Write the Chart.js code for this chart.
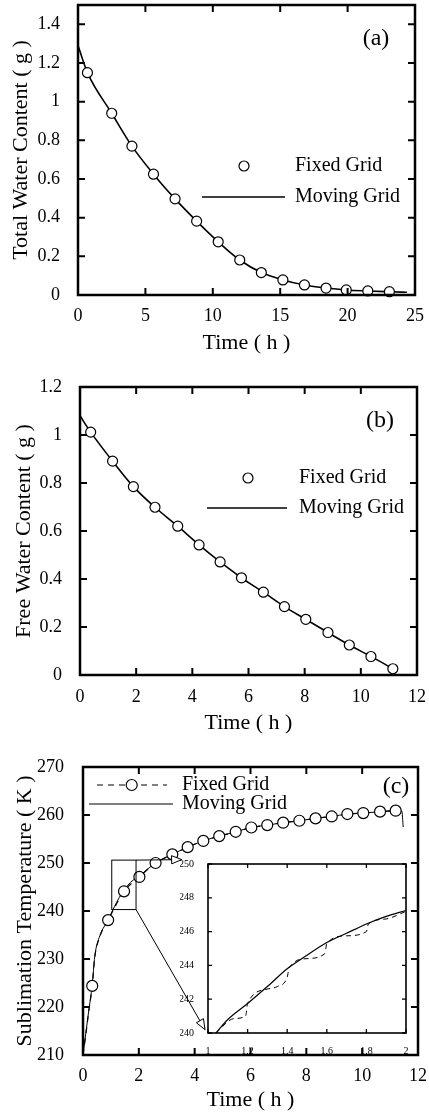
<!DOCTYPE html>
<html>
<head>
<meta charset="utf-8">
<script src="https://cdn.jsdelivr.net/npm/chart.js@4.4.1/dist/chart.umd.min.js"></script>
<style>
  body { margin: 0; background: #fff; }
  #wrap { position: relative; width: 429px; height: 1117px; }
  canvas { position: absolute; left: 0; }
</style>
</head>
<body>
<div id="wrap">
  <canvas id="panelA" width="429" height="360" style="top:0"></canvas>
  <canvas id="panelB" width="429" height="380" style="top:360px"></canvas>
  <canvas id="panelC" width="429" height="377" style="top:740px"></canvas>
  <canvas id="inset" width="232" height="200" style="top:855px;left:180px"></canvas>
</div>
<script>
const serif = "'Liberation Serif', 'Times New Roman', Times, serif";

// Panel (a) - Total water content
const aFixedTime   = [0.7, 2.5, 4.0, 5.6, 7.2, 8.8, 10.4, 12.0, 13.6, 15.2, 16.8, 18.4, 19.9, 21.5, 23.1];
const aFixedWater  = [1.15, 0.94, 0.77, 0.625, 0.497, 0.382, 0.275, 0.181, 0.116, 0.078, 0.052, 0.036, 0.026, 0.021, 0.017];
const aMovingTime  = [0, 0.7, 2.5, 4.0, 5.6, 7.2, 8.8, 10.4, 12.0, 13.6, 15.2, 16.8, 18.4, 19.9, 21.5, 23.1, 24.4];
const aMovingWater = [1.29, 1.15, 0.94, 0.77, 0.625, 0.497, 0.382, 0.275, 0.181, 0.116, 0.078, 0.052, 0.036, 0.026, 0.021, 0.017, 0.014];
const aXTicks = [0, 5, 10, 15, 20, 25];
const aYTicks = [0, 0.2, 0.4, 0.6, 0.8, 1, 1.2, 1.4];

// Panel (b) - Free water content
const bFixedTime   = [0.38, 1.16, 1.90, 2.67, 3.48, 4.24, 4.99, 5.75, 6.53, 7.28, 8.04, 8.83, 9.59, 10.36, 11.14];
const bFixedWater  = [1.012, 0.891, 0.785, 0.699, 0.620, 0.542, 0.471, 0.405, 0.345, 0.285, 0.232, 0.177, 0.125, 0.077, 0.026];
const bMovingTime  = [0, 0.38, 1.16, 1.90, 2.67, 3.48, 4.24, 4.99, 5.75, 6.53, 7.28, 8.04, 8.83, 9.59, 10.36, 11.14, 11.2];
const bMovingWater = [1.08, 1.012, 0.891, 0.785, 0.699, 0.620, 0.542, 0.471, 0.405, 0.345, 0.285, 0.232, 0.177, 0.125, 0.077, 0.024, 0.018];
const bXTicks = [0, 2, 4, 6, 8, 10, 12];
const bYTicks = [0, 0.2, 0.4, 0.6, 0.8, 1, 1.2];

// Panel (c) - Sublimation temperature
const cFixedTime     = [0.33, 0.90, 1.47, 2.02, 2.60, 3.20, 3.75, 4.31, 4.88, 5.47, 6.03, 6.60, 7.17, 7.75, 8.33, 8.91, 9.47, 10.04, 10.64, 11.20];
const cFixedTemp     = [224.4, 238.1, 244.1, 247.1, 250.0, 251.8, 253.3, 254.6, 255.6, 256.5, 257.4, 257.9, 258.4, 258.8, 259.3, 259.7, 260.2, 260.4, 260.7, 260.9];
const cFixedLineTime = [0, 0.1, 0.2, 0.33, 0.42, 0.6, 0.90, 1.47, 2.02, 2.60, 3.20, 3.75, 4.31, 4.88, 5.47, 6.03, 6.60, 7.17, 7.75, 8.33, 8.91, 9.47, 10.04, 10.64, 11.20];
const cFixedLineTemp = [210, 214.2, 218.8, 224.4, 230.3, 234.6, 238.1, 244.1, 247.1, 250.0, 251.8, 253.3, 254.6, 255.6, 256.5, 257.4, 257.9, 258.4, 258.8, 259.3, 259.7, 260.2, 260.4, 260.7, 260.9];
const cMovingTime    = [0, 0.1, 0.2, 0.33, 0.42, 0.6, 0.9, 1.05, 1.2, 1.4, 1.6, 1.8, 2.0, 2.6, 3.2, 3.75, 4.31, 4.88, 5.47, 6.03, 6.6, 7.17, 7.75, 8.33, 8.91, 9.47, 10.04, 10.64, 11.2, 11.42, 11.47];
const cMovingTemp    = [210, 214.5, 219, 224.6, 230.5, 234.8, 238.1, 240.0, 241.75, 243.8, 245.35, 246.45, 247.25, 250.0, 251.8, 253.3, 254.6, 255.6, 256.5, 257.4, 257.9, 258.4, 258.8, 259.3, 259.7, 260.2, 260.4, 260.7, 260.9, 260.8, 257.5];
const cXTicks = [0, 2, 4, 6, 8, 10, 12];
const cYTicks = [210, 220, 230, 240, 250, 260, 270];

// Inset of (c), 1-2 h
const insetFixedTime  = [1.04, 1.13, 1.19, 1.20, 1.30, 1.35, 1.40, 1.41, 1.50, 1.59, 1.60, 1.70, 1.80, 1.81, 1.90, 2.0];
const insetFixedTemp  = [240.0, 240.85, 241.0, 241.75, 242.6, 242.75, 243.3, 243.85, 244.4, 244.7, 245.3, 245.75, 246.0, 246.45, 246.75, 247.2];
const insetMovingTime = [1.04, 1.1, 1.2, 1.3, 1.4, 1.5, 1.6, 1.7, 1.8, 1.9, 2.0];
const insetMovingTemp = [240.0, 240.8, 241.75, 242.75, 243.8, 244.6, 245.35, 245.9, 246.45, 246.9, 247.25];
const insetXTicks = [1, 1.2, 1.4, 1.6, 1.8, 2];
const insetYTicks = [240, 242, 244, 246, 248, 250];

const pts = (xs, ys) => xs.map((x, i) => ({ x, y: ys[i] }));

// frame with inward ticks on all four sides
const framePlugin = {
  id: 'frame',
  beforeDatasetsDraw(chart, args, o) {
    if (!o.fill) return;
    const a = chart.chartArea;
    chart.ctx.save();
    chart.ctx.fillStyle = o.fill;
    chart.ctx.fillRect(a.left, a.top, a.width, a.height);
    chart.ctx.restore();
  },
  afterDatasetsDraw(chart, args, o) {
    const { ctx, chartArea: a, scales: { x, y } } = chart;
    ctx.save();
    ctx.strokeStyle = '#000';
    ctx.lineWidth = o.tickWidth;
    ctx.beginPath();
    for (const t of x.ticks) {
      const px = x.getPixelForValue(t.value);
      ctx.moveTo(px, a.bottom); ctx.lineTo(px, a.bottom - o.tickLen);
      ctx.moveTo(px, a.top); ctx.lineTo(px, a.top + o.tickLen);
    }
    for (const t of y.ticks) {
      const py = y.getPixelForValue(t.value);
      ctx.moveTo(a.left, py); ctx.lineTo(a.left + o.tickLen, py);
      ctx.moveTo(a.right, py); ctx.lineTo(a.right - o.tickLen, py);
    }
    ctx.stroke();
    ctx.lineWidth = o.width;
    ctx.strokeRect(a.left, a.top, a.width, a.height);
    ctx.restore();
  }
};

// hand placed key and panel letter
const keyPlugin = {
  id: 'key',
  afterDraw(chart, args, o) {
    const ctx = chart.ctx;
    ctx.save();
    ctx.fillStyle = '#000';
    ctx.strokeStyle = '#000';
    ctx.textBaseline = 'middle';
    ctx.textAlign = 'center';
    ctx.font = '24px ' + serif;
    ctx.fillText(o.label, o.labelX, o.labelY);
    ctx.textAlign = 'left';
    ctx.font = '20px ' + serif;
    for (const it of o.items) {
      if (it.x0 != null) {
        ctx.lineWidth = it.lineWidth;
        ctx.setLineDash(it.dash ? [6, 5] : []);
        ctx.beginPath();
        ctx.moveTo(it.x0, it.y);
        ctx.lineTo(it.x1, it.y);
        ctx.stroke();
        ctx.setLineDash([]);
      }
      if (it.dot != null) {
        ctx.beginPath();
        ctx.arc(it.dot, it.y, it.r, 0, Math.PI * 2);
        ctx.fillStyle = '#fff';
        ctx.fill();
        ctx.lineWidth = 1.2;
        ctx.stroke();
        ctx.fillStyle = '#000';
      }
      ctx.fillText(it.text, it.textX, it.y);
    }
    ctx.restore();
  }
};

function arrow(ctx, x0, y0, x1, y1) {
  const ang = Math.atan2(y1 - y0, x1 - x0), len = 11, w = 0.38;
  ctx.beginPath();
  ctx.moveTo(x0, y0);
  ctx.lineTo(x1, y1);
  ctx.stroke();
  ctx.beginPath();
  ctx.moveTo(x1, y1);
  ctx.lineTo(x1 - len * Math.cos(ang - w), y1 - len * Math.sin(ang - w));
  ctx.lineTo(x1 - len * Math.cos(ang + w), y1 - len * Math.sin(ang + w));
  ctx.closePath();
  ctx.fillStyle = '#fff';
  ctx.fill();
  ctx.stroke();
}

// zoom box and arrows of panel (c), in data units
const zoomPlugin = {
  id: 'zoomBox',
  afterDatasetsDraw(chart) {
    const { ctx, scales: { x, y } } = chart;
    const X = v => x.getPixelForValue(v), Y = v => y.getPixelForValue(v);
    ctx.save();
    ctx.strokeStyle = '#000';
    ctx.lineWidth = 1;
    ctx.strokeRect(X(1.03), Y(250.6), X(1.9) - X(1.03), Y(240.3) - Y(250.6));
    arrow(ctx, X(1.9), Y(250.6), X(3.54), Y(250.7));
    arrow(ctx, X(1.9), Y(240.3), X(4.37), Y(215.3));
    ctx.restore();
  }
};

function axes(p) {
  const tickFont = { family: serif, size: p.tickSize };
  const titleFont = { family: serif, size: 22, lineHeight: 1.2 };
  return {
    x: {
      type: 'linear', min: p.xMin, max: p.xMax,
      afterBuildTicks: s => { s.ticks = p.xTicks.map(value => ({ value })); },
      afterFit: s => { s.height = p.xHeight; s.paddingLeft = 0; s.paddingRight = 0; },
      grid: { display: false },
      border: { display: false },
      ticks: { color: '#000', font: tickFont, padding: p.xPad, maxRotation: 0, autoSkip: false, callback: v => String(v) },
      title: p.xTitle ? { display: true, text: p.xTitle, color: '#000', font: titleFont, padding: { top: 0, bottom: 4 } } : { display: false }
    },
    y: {
      type: 'linear', min: p.yMin, max: p.yMax,
      afterBuildTicks: s => { s.ticks = p.yTicks.map(value => ({ value })); },
      afterFit: s => { s.width = p.yWidth; s.paddingTop = 0; s.paddingBottom = 0; },
      grid: { display: false },
      border: { display: false },
      ticks: { color: '#000', font: tickFont, padding: p.yPad, autoSkip: false, callback: v => String(v) },
      title: p.yTitle ? { display: true, text: p.yTitle, color: '#000', font: titleFont, padding: { top: p.yTitlePad, bottom: 0 } } : { display: false }
    }
  };
}

const circles = (data, r) => ({
  data, showLine: false, pointRadius: r, pointBackgroundColor: '#fff',
  pointBorderColor: '#000', pointBorderWidth: 1.2, clip: false
});
const line = (data, width, dash) => ({
  data, showLine: true, borderColor: '#000', borderWidth: width, borderDash: dash || [],
  pointRadius: 0, cubicInterpolationMode: 'monotone', clip: false
});

// Chart #1 - (a)
new Chart(document.getElementById('panelA'), {
  type: 'scatter',
  data: {
    datasets: [
      circles(pts(aFixedTime, aFixedWater), 5),
      line(pts(aMovingTime, aMovingWater), 1.6)
    ]
  },
  plugins: [framePlugin, keyPlugin],
  options: {
    responsive: false, animation: false, events: [],
    layout: { autoPadding: false, padding: { left: 0, top: 5, right: 14, bottom: 0 } },
    scales: axes({
      xMin: 0, xMax: 25, xTicks: aXTicks, xHeight: 65, xPad: 2, xTitle: 'Time ( h )',
      yMin: 0, yMax: 1.5, yTicks: aYTicks, yWidth: 78, yPad: 10, yTitle: 'Total Water Content ( g )', yTitlePad: 8,
      tickSize: 18
    }),
    plugins: {
      legend: { display: false }, tooltip: { enabled: false },
      frame: { width: 2.5, tickWidth: 2, tickLen: 7 },
      key: {
        label: '(a)', labelX: 376, labelY: 39,
        items: [
          { text: 'Fixed Grid', textX: 295, y: 166, dot: 244, r: 5 },
          { text: 'Moving Grid', textX: 295, y: 197, x0: 202, x1: 285, lineWidth: 1.5 }
        ]
      }
    }
  }
});

// Chart #2 - (b)
new Chart(document.getElementById('panelB'), {
  type: 'scatter',
  data: {
    datasets: [
      circles(pts(bFixedTime, bFixedWater), 5),
      line(pts(bMovingTime, bMovingWater), 1.6)
    ]
  },
  plugins: [framePlugin, keyPlugin],
  options: {
    responsive: false, animation: false, events: [],
    layout: { autoPadding: false, padding: { left: 0, top: 27, right: 12, bottom: 0 } },
    scales: axes({
      xMin: 0, xMax: 12, xTicks: bXTicks, xHeight: 65, xPad: 3, xTitle: 'Time ( h )',
      yMin: 0, yMax: 1.2, yTicks: bYTicks, yWidth: 80, yPad: 10, yTitle: 'Free Water Content ( g )', yTitlePad: 11,
      tickSize: 18
    }),
    plugins: {
      legend: { display: false }, tooltip: { enabled: false },
      frame: { width: 2.5, tickWidth: 2, tickLen: 7 },
      key: {
        label: '(b)', labelX: 380, labelY: 61,
        items: [
          { text: 'Fixed Grid', textX: 299, y: 118, dot: 248, r: 5 },
          { text: 'Moving Grid', textX: 299, y: 148, x0: 207, x1: 287, lineWidth: 1.5 }
        ]
      }
    }
  }
});

// Chart #3 - (c)
new Chart(document.getElementById('panelC'), {
  type: 'scatter',
  data: {
    datasets: [
      circles(pts(cFixedTime, cFixedTemp), 5.5),
      line(pts(cFixedLineTime, cFixedLineTemp), 1.2, [6, 5]),
      line(pts(cMovingTime, cMovingTemp), 1)
    ]
  },
  plugins: [framePlugin, zoomPlugin, keyPlugin],
  options: {
    responsive: false, animation: false, events: [],
    layout: { autoPadding: false, padding: { left: 0, top: 27, right: 11, bottom: 0 } },
    scales: axes({
      xMin: 0, xMax: 12, xTicks: cXTicks, xHeight: 62, xPad: 2, xTitle: 'Time ( h )',
      yMin: 210, yMax: 270, yTicks: cYTicks, yWidth: 83, yPad: 11, yTitle: 'Sublimation Temperature ( K )', yTitlePad: 12,
      tickSize: 18
    }),
    plugins: {
      legend: { display: false }, tooltip: { enabled: false },
      frame: { width: 2.5, tickWidth: 2, tickLen: 7 },
      key: {
        label: '(c)', labelX: 396, labelY: 47,
        items: [
          { text: 'Fixed Grid', textX: 182, y: 45, x0: 97, x1: 167, lineWidth: 1.2, dash: true, dot: 131.7, r: 5.5 },
          { text: 'Moving Grid', textX: 182, y: 64, x0: 89, x1: 173, lineWidth: 1 }
        ]
      }
    }
  }
});

// Chart #4 - inset of (c)
new Chart(document.getElementById('inset'), {
  type: 'scatter',
  data: {
    datasets: [
      line(pts(insetFixedTime, insetFixedTemp), 1, [5, 4]),
      line(pts(insetMovingTime, insetMovingTemp), 1.2)
    ]
  },
  plugins: [framePlugin],
  options: {
    responsive: false, animation: false, events: [],
    layout: { autoPadding: false, padding: { left: 0, top: 9, right: 6, bottom: 0 } },
    scales: axes({
      xMin: 1, xMax: 2, xTicks: insetXTicks, xHeight: 22, xPad: 4,
      yMin: 240, yMax: 250, yTicks: insetYTicks, yWidth: 28, yPad: 6,
      tickSize: 10
    }),
    plugins: {
      legend: { display: false }, tooltip: { enabled: false },
      frame: { width: 1.6, tickWidth: 1.3, tickLen: 4, fill: '#fff' }
    }
  }
});
</script>
</body>
</html>
